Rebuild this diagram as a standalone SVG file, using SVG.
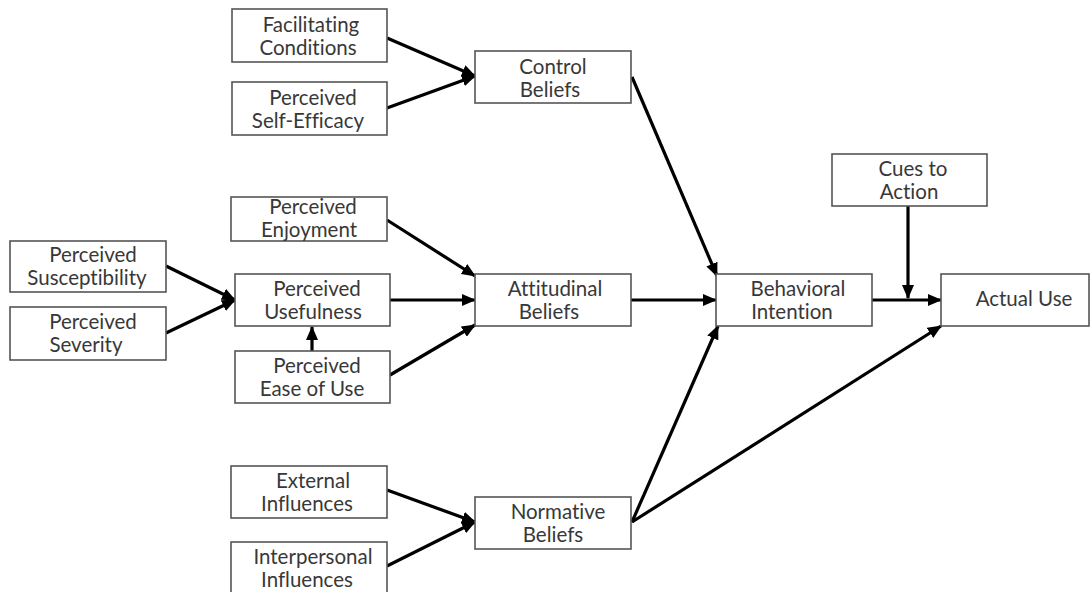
<svg xmlns="http://www.w3.org/2000/svg" width="1091" height="592" viewBox="0 0 1091 592">
  <style>
    .box { fill: #ffffff; stroke: #555555; stroke-width: 1.6; }
    .lbl { font-family: Lato, "Liberation Sans", sans-serif; font-size: 20.5px; fill: #383838; text-anchor: middle; font-variant-ligatures: none; font-feature-settings: "liga" 0, "dlig" 0; }
    .edge { stroke: #000000; stroke-width: 3.2; fill: none; marker-end: url(#arrow); }
  </style>
  <defs>
    <marker id="arrow" markerUnits="userSpaceOnUse" markerWidth="14" markerHeight="12" refX="13" refY="6" orient="auto">
      <path d="M0,0 L14,6 L0,12 z" fill="#000000"/>
    </marker>
  </defs>
  <rect width="1091" height="592" fill="#ffffff"/>

  <g id="connectors">
    <line class="edge" x1="387" y1="38" x2="475" y2="76"/>
    <line class="edge" x1="387" y1="108" x2="475" y2="76"/>
    <line class="edge" x1="632" y1="77" x2="717" y2="276"/>
    <line class="edge" x1="387" y1="220" x2="475" y2="276"/>
    <line class="edge" x1="166" y1="266" x2="235" y2="300"/>
    <line class="edge" x1="166" y1="333" x2="235" y2="300"/>
    <line class="edge" x1="390" y1="300" x2="475" y2="300"/>
    <line class="edge" x1="312" y1="351" x2="312" y2="327"/>
    <line class="edge" x1="390" y1="375" x2="475" y2="325"/>
    <line class="edge" x1="631" y1="300" x2="716" y2="300"/>
    <line class="edge" x1="871" y1="300" x2="941" y2="300"/>
    <line class="edge" x1="908" y1="206" x2="908" y2="298"/>
    <line class="edge" x1="387" y1="490" x2="475" y2="522"/>
    <line class="edge" x1="387" y1="566" x2="475" y2="522"/>
    <line class="edge" x1="632" y1="522" x2="718" y2="326"/>
    <line class="edge" x1="632" y1="522" x2="941" y2="326"/>
  </g>

  <g id="facilitating-conditions">
    <rect class="box" x="232" y="9" width="155" height="53"/>
    <text class="lbl" x="311" y="32">Facilitating</text>
    <text class="lbl" x="308" y="55">Conditions</text>
  </g>
  <g id="perceived-self-efficacy">
    <rect class="box" x="232" y="82" width="155" height="53"/>
    <text class="lbl" x="313" y="105">Perceived</text>
    <text class="lbl" x="308" y="128">Self-Efficacy</text>
  </g>
  <g id="control-beliefs">
    <rect class="box" x="475" y="51" width="156" height="52"/>
    <text class="lbl" x="553" y="74">Control</text>
    <text class="lbl" x="550" y="97">Beliefs</text>
  </g>
  <g id="perceived-enjoyment">
    <rect class="box" x="231" y="197" width="156" height="44"/>
    <text class="lbl" x="313" y="214">Perceived</text>
    <text class="lbl" x="309" y="237">Enjoyment</text>
  </g>
  <g id="perceived-susceptibility">
    <rect class="box" x="10" y="241" width="156" height="51"/>
    <text class="lbl" x="93" y="262">Perceived</text>
    <text class="lbl" x="87" y="285">Susceptibility</text>
  </g>
  <g id="perceived-severity">
    <rect class="box" x="10" y="307" width="156" height="53"/>
    <text class="lbl" x="93" y="329">Perceived</text>
    <text class="lbl" x="86" y="352">Severity</text>
  </g>
  <g id="perceived-usefulness">
    <rect class="box" x="235" y="274" width="155" height="52"/>
    <text class="lbl" x="317" y="296">Perceived</text>
    <text class="lbl" x="313" y="319">Usefulness</text>
  </g>
  <g id="perceived-ease-of-use">
    <rect class="box" x="235" y="351" width="155" height="52"/>
    <text class="lbl" x="317" y="373">Perceived</text>
    <text class="lbl" x="312" y="396">Ease of Use</text>
  </g>
  <g id="attitudinal-beliefs">
    <rect class="box" x="475" y="274" width="156" height="52"/>
    <text class="lbl" x="555" y="296">Attitudinal</text>
    <text class="lbl" x="549" y="319">Beliefs</text>
  </g>
  <g id="behavioral-intention">
    <rect class="box" x="716" y="274" width="156" height="52"/>
    <text class="lbl" x="798" y="296">Behavioral</text>
    <text class="lbl" x="792" y="319">Intention</text>
  </g>
  <g id="cues-to-action">
    <rect class="box" x="832" y="154" width="155" height="52"/>
    <text class="lbl" x="913" y="176">Cues to</text>
    <text class="lbl" x="909" y="199">Action</text>
  </g>
  <g id="actual-use">
    <rect class="box" x="941" y="274" width="148" height="52"/>
    <text class="lbl" x="1024" y="306">Actual Use</text>
  </g>
  <g id="external-influences">
    <rect class="box" x="231" y="466" width="156" height="52"/>
    <text class="lbl" x="313" y="488">External</text>
    <text class="lbl" x="307" y="511">Influences</text>
  </g>
  <g id="interpersonal-influences">
    <rect class="box" x="231" y="542" width="156" height="52"/>
    <text class="lbl" x="313" y="564">Interpersonal</text>
    <text class="lbl" x="307" y="587">Influences</text>
  </g>
  <g id="normative-beliefs">
    <rect class="box" x="475" y="497" width="156" height="52"/>
    <text class="lbl" x="558" y="519">Normative</text>
    <text class="lbl" x="553" y="542">Beliefs</text>
  </g>
</svg>
